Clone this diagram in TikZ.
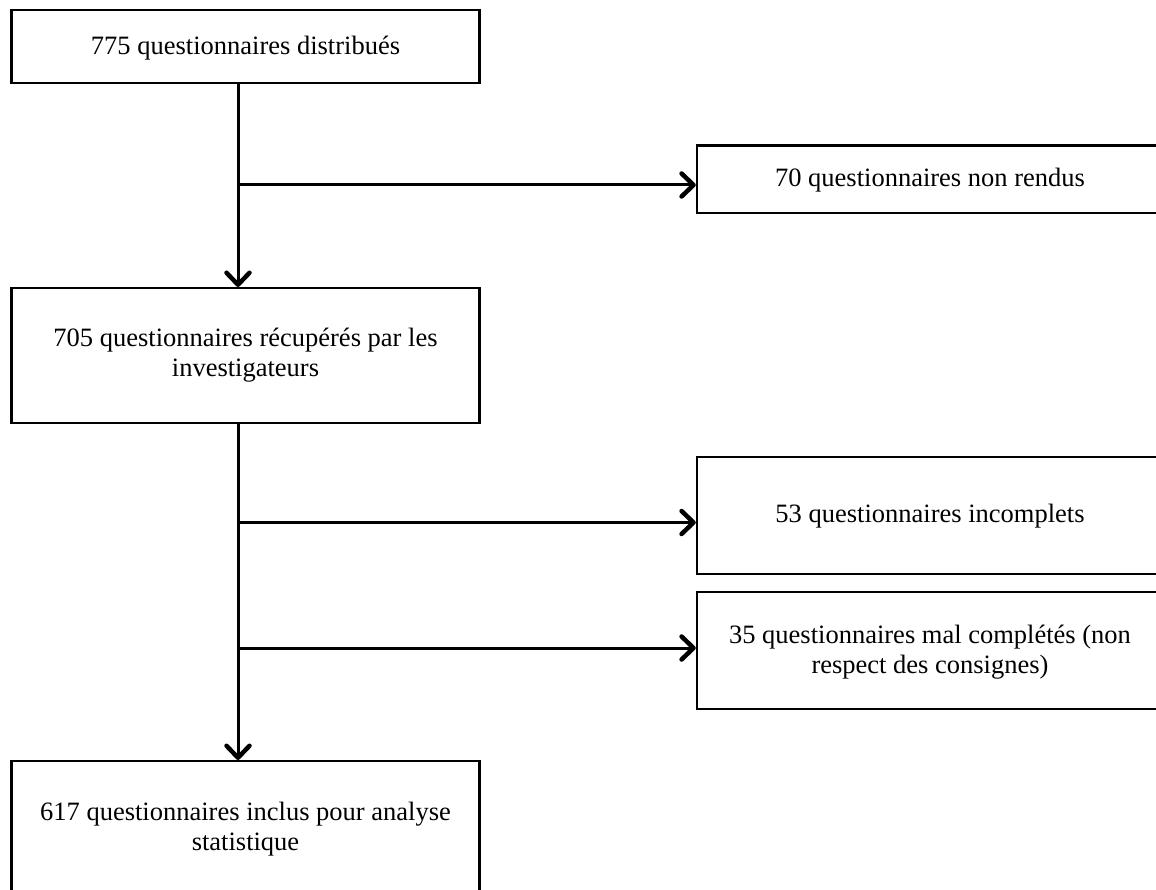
\documentclass[tikz,border=0pt]{standalone}
\usepackage{fontspec}
\setmainfont{Liberation Serif}
\usetikzlibrary{arrows.meta}
\begin{document}
\begin{tikzpicture}[x=1pt,y=-1pt,
  boxline/.style={draw=black,line width=2.2pt},
  txt/.style={align=center,font=\fontsize{26.5}{30.5}\selectfont,inner sep=0pt},
  conn/.style={line width=3pt,-{Straight Barb[length=12pt,width=23pt,line width=4.5pt,line cap=round,line join=round]}}]
\useasboundingbox (0,0) rectangle (1156,890);
\begin{scope}
\clip (0,0) rectangle (1156,890);
% boxes
\draw[boxline] (11.5,10) rectangle (479.5,83);
\draw[boxline] (11.5,288) rectangle (479.5,423);
\draw[boxline] (11.5,761) rectangle (479.5,897);
\draw[boxline] (697,145.5) rectangle (1160,213);
\draw[boxline] (697,456.7) rectangle (1160,574);
\draw[boxline] (697,592) rectangle (1160,709);
\end{scope}
% invisible named nodes over boxes
\node[inner sep=0pt,minimum width=468pt,minimum height=73pt] (b1) at (245.5,46.5) {};
\node[inner sep=0pt,minimum width=468pt,minimum height=135pt] (b2) at (245.5,355.5) {};
\node[inner sep=0pt,minimum width=468pt,minimum height=136pt] (b3) at (245.5,829) {};
\node[inner sep=0pt,minimum width=463pt,minimum height=67.5pt] (r1) at (928.5,179.25) {};
\node[inner sep=0pt,minimum width=463pt,minimum height=117.3pt] (r2) at (928.5,515.35) {};
\node[inner sep=0pt,minimum width=463pt,minimum height=117pt] (r3) at (928.5,650.5) {};
% texts
\node[txt] (t1) at (245.5,48) {775 questionnaires distribués};
\node[txt] (t2) at (245.5,355) {705 questionnaires récupérés par les\\investigateurs};
\node[txt] (t3) at (245.5,829) {617 questionnaires inclus pour analyse\\statistique};
\node[txt] (t4) at (930,180) {70 questionnaires non rendus};
\node[txt] (t5) at (930,516) {53 questionnaires incomplets};
\node[txt] (t6) at (930,652) {35 questionnaires mal complétés (non\\respect des consignes)};
% connectors
\coordinate (s1) at (238,83);
\coordinate (e1) at (238,287);
\coordinate (s2) at (238,423);
\coordinate (e2) at (238,760);
\coordinate (j1) at (238,185);
\coordinate (j2) at (238,522.5);
\coordinate (j3) at (238,648);
\draw[conn] (s1) -- (e1);
\draw[conn] (s2) -- (e2);
\draw[conn] (j1) -- ([xshift=-1pt]r1.west |- j1);
\draw[conn] (j2) -- ([xshift=-1pt]r2.west |- j2);
\draw[conn] (j3) -- ([xshift=-1pt]r3.west |- j3);
\end{tikzpicture}
\end{document}
